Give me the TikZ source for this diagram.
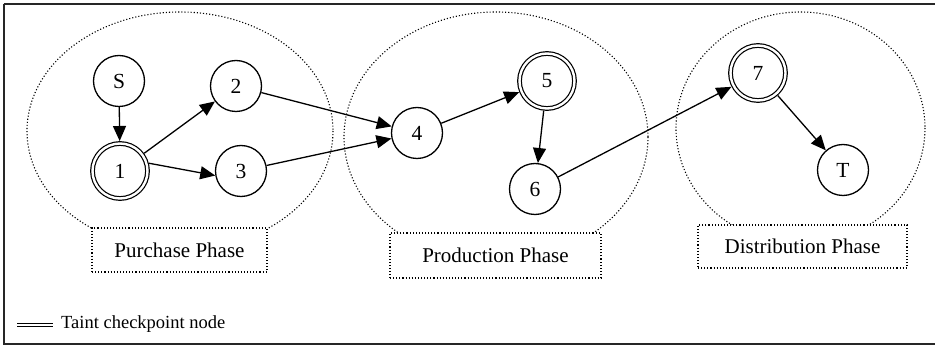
\documentclass[tikz,border=0pt]{standalone}
\usepackage{fontspec}
\setmainfont{Liberation Serif}
\usetikzlibrary{arrows.meta}
\begin{document}
\begin{tikzpicture}[x=1pt,y=-1pt,
  vtx/.style={circle,draw,line width=1.3pt,minimum size=51pt,inner sep=0pt,font=\fontsize{21.5}{21.5}\selectfont},
  chk/.style={circle,draw,line width=1.2pt,double,double distance=2.4pt,minimum size=55pt,inner sep=0pt,outer sep=2.5pt,font=\fontsize{21.5}{21.5}\selectfont},
  edge/.style={line width=1.3pt,-{Triangle[length=15pt,width=13pt]}},
  phase/.style={draw,dotted,line width=1.1pt},
  phasebox/.style={draw,dotted,line width=1.1pt,fill=white,inner sep=0pt,font=\fontsize{21}{21}\selectfont}]
\useasboundingbox (0,0) rectangle (935,347);
% frame
\draw[line width=2pt,black!85] (3.5,4.5) -- (940,4.5) (3.5,4.5) -- (3.5,344) -- (940,344);
% phase ellipses
\draw[phase] (180,131) ellipse [x radius=153,y radius=119];
\draw[phase] (496,137) ellipse [x radius=152,y radius=125];
\draw[phase] (800.5,128) ellipse [x radius=124.5,y radius=116];
% phase boxes
\node[phasebox,minimum width=175pt,minimum height=44pt] (pp) at (179.5,250) {Purchase Phase};
\node[phasebox,minimum width=211pt,minimum height=45pt] (prp) at (495.5,255.5) {Production Phase};
\node[phasebox,minimum width=209pt,minimum height=43pt] (dp) at (802.5,246.5) {Distribution Phase};
% vertices
\node[vtx] (S) at (119,81) {S};
\node[chk] (n1) at (120,171) {1};
\node[vtx] (n2) at (236,86) {2};
\node[vtx] (n3) at (241,171) {3};
\node[vtx] (n4) at (417,133) {4};
\node[chk] (n5) at (547,81) {5};
\node[vtx] (n6) at (535,189) {6};
\node[chk] (n7) at (758,73) {7};
\node[vtx] (T) at (843,170) {T};
% edges
\draw[edge] (S) -- (n1);
\draw[edge] (n1) -- (n2);
\draw[edge] (n1.15) -- (n3.190);
\draw[edge] (n2) -- (n4);
\draw[edge] (n3) -- (n4);
\draw[edge] (n4) -- (n5);
\draw[edge] (n5) -- (n6);
\draw[edge] (n6) -- (n7);
\draw[edge] (n7) -- (T);
% legend
\coordinate (la) at (17,325);
\coordinate (lb) at (53,325);
\draw[line width=1.2pt,double,double distance=2.4pt] (la) -- (lb);
\node[anchor=west,inner sep=0pt,font=\fontsize{18.5}{18.5}\selectfont] (leg) at (61,324) {Taint checkpoint node};
\end{tikzpicture}
\end{document}
